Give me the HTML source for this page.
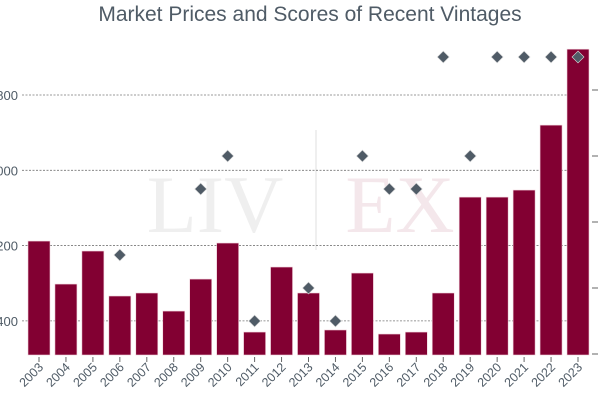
<!DOCTYPE html>
<html><head><meta charset="utf-8"><style>
body{margin:0;background:#fff;font-family:"Liberation Sans","DejaVu Sans",sans-serif}
svg{display:block}
</style></head><body>
<svg id="chart" width="600" height="403" viewBox="0 0 600 403">
<text x="310" y="21" text-anchor="middle" font-size="21" fill="#4f5b66">Market Prices and Scores of Recent Vintages</text>
<g opacity="0.09">
<text x="215" y="232" text-anchor="middle" font-family="Liberation Serif,serif" font-size="82" fill="#555">LIV</text>
<line x1="316" y1="130" x2="316" y2="250" stroke="#555" stroke-width="2"/>
<text x="400" y="232" text-anchor="middle" font-family="Liberation Serif,serif" font-size="82" fill="#8a0030">EX</text>
</g>
<g id="grid"></g><g id="bars"></g><g id="marks"></g><g id="axes"></g>
</svg>
<script>
const years=["2003","2004","2005","2006","2007","2008","2009","2010","2011","2012","2013","2014","2015","2016","2017","2018","2019","2020","2021","2022","2023"];
const prices=[1248,791,1142,664,696,504,844,1227,281,972,696,303,908,260,281,696,1715,1715,1790,2480,3287];
const scores=[null,null,null,94,null,null,96,97,92,null,93,92,97,96,96,100,97,100,100,100,100];
const priceTicks=[400,1200,2000,2800];
const priceTickLabels=["400","1,200","2,000","2,800"];
const scoreTicks=[99,97,95,93,91];
const NS="http://www.w3.org/2000/svg";
function yP(v){return 358.5-v*0.0941;}
function yS(s){return 57+(100-s)*33;}
function xC(i){return 39+i*26.95;}
const base=355;
function mk(tag,attrs,parent){const e=document.createElementNS(NS,tag);for(const k in attrs)e.setAttribute(k,attrs[k]);document.getElementById(parent).appendChild(e);return e;}
priceTicks.forEach((t,i)=>{
 const l=mk('line',{x1:22,x2:588,y1:yP(t),y2:yP(t),stroke:'#777','stroke-width':0.8,'stroke-dasharray':'2,1.5'},'grid');
 
 
 const tx=mk('text',{x:18,y:yP(t)+5,'text-anchor':'end','font-size':13,fill:'#4f5b66'},'axes');
 tx.textContent=priceTickLabels[i];
 
 
});
scoreTicks.forEach(s=>{
 const l=mk('line',{x1:592,x2:598,y1:yS(s),y2:yS(s),stroke:'#666','stroke-width':1},'axes');
 
 
});
years.forEach((y,i)=>{
 const top=yP(prices[i]);
 const r=mk('rect',{x:xC(i)-11,y:top,width:22,height:base-top,fill:'#820032',stroke:'#f0d0da','stroke-width':0.6},'bars');
 
 
 const tk=mk('line',{x1:xC(i),x2:xC(i),y1:357,y2:362,stroke:'#666'},'axes');
 
 
 const tx=mk('text',{x:xC(i)+5,y:368,'text-anchor':'end','font-size':12.5,fill:'#4f5b66',transform:`rotate(-45 ${xC(i)+5} 368)`},'axes');
 tx.textContent=y;
 
 
 if(scores[i]!==null){
  const cx=xC(i),cy=yS(scores[i]);
  const d=mk('polygon',{points:`${cx},${cy-6} ${cx+6},${cy} ${cx},${cy+6} ${cx-6},${cy}`,fill:'#4f5b66',stroke:'#ddd','stroke-width':0.6},'marks');
  
  
 }
});
</script>
</body></html>
